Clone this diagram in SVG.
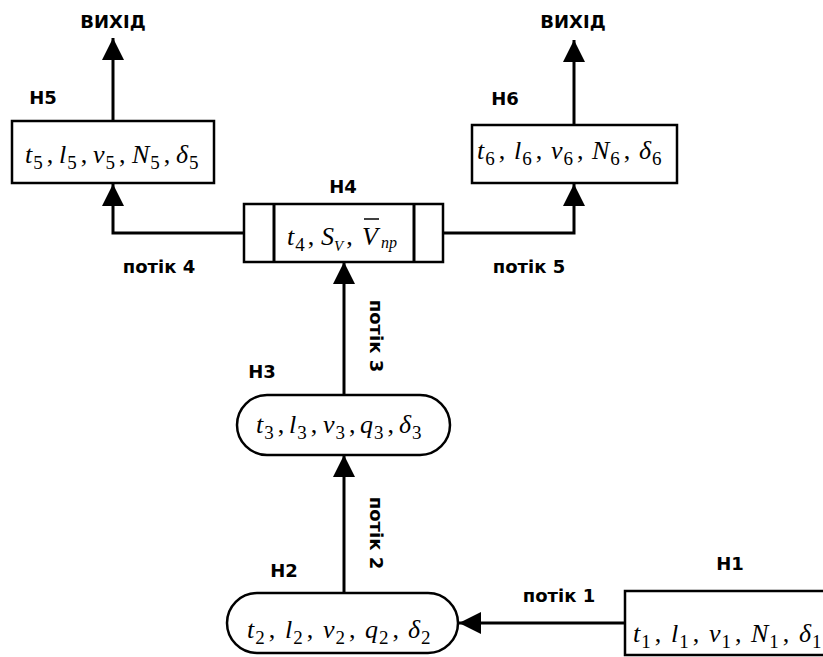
<svg xmlns="http://www.w3.org/2000/svg" width="823" height="657" viewBox="0 0 823 657">
<defs>
<style>
.box{fill:#fff;stroke:#000;stroke-width:2.5}
.ln{fill:none;stroke:#000;stroke-width:3}
.lbl{font-family:"DejaVu Sans","Open Sans",sans-serif;font-weight:700;font-size:18px;fill:#000}
.m{font-family:"Liberation Serif","Times New Roman",serif;font-style:italic;font-size:26px;fill:#000}
.s{font-style:normal;font-size:19px}
.c{font-style:normal}
</style>
<marker id="ah" viewBox="0 0 22 22" refX="22" refY="11" markerWidth="22" markerHeight="22" markerUnits="userSpaceOnUse" orient="auto">
<path d="M0,0 L22,11 L0,22 Z" fill="#000"/>
</marker>
</defs>
<rect width="823" height="657" fill="#fff"/>
<g id="connectors">
<line class="ln" x1="113" y1="121" x2="113" y2="38" marker-end="url(#ah)"/>
<line class="ln" x1="574" y1="125" x2="574" y2="40" marker-end="url(#ah)"/>
<polyline class="ln" points="244,233 113,233 113,184" marker-end="url(#ah)"/>
<polyline class="ln" points="443,233 574,233 574,184" marker-end="url(#ah)"/>
<line class="ln" x1="344" y1="395" x2="344" y2="262" marker-end="url(#ah)"/>
<line class="ln" x1="344" y1="593" x2="344" y2="455" marker-end="url(#ah)"/>
<line class="ln" x1="625" y1="623" x2="459" y2="623" marker-end="url(#ah)"/>
<text class="lbl" x="159" y="273" text-anchor="middle">потік 4</text>
<text class="lbl" x="529" y="273" text-anchor="middle">потік 5</text>
<text class="lbl" x="559" y="602" text-anchor="middle">потік 1</text>
<text class="lbl" transform="translate(370,336) rotate(90)" text-anchor="middle">потік 3</text>
<text class="lbl" transform="translate(370,533) rotate(90)" text-anchor="middle">потік 2</text>
<text class="lbl" x="113" y="28" text-anchor="middle">ВИХІД</text>
<text class="lbl" x="573" y="28" text-anchor="middle">ВИХІД</text>
</g>
<g id="H5">
<rect class="box" x="12" y="121" width="202" height="62"/>
<text class="lbl" x="43" y="104" text-anchor="middle">Н5</text>
<text class="m" y="163"><tspan x="25">t</tspan><tspan class="s" dx="1" dy="6">5</tspan><tspan class="c" dx="4" dy="-6">,</tspan><tspan x="59">l</tspan><tspan class="s" dx="1" dy="6">5</tspan><tspan class="c" dx="4" dy="-6">,</tspan><tspan x="93">v</tspan><tspan class="s" dx="1" dy="6">5</tspan><tspan class="c" dx="4" dy="-6">,</tspan><tspan x="132">N</tspan><tspan class="s" dx="1" dy="6">5</tspan><tspan class="c" dx="4" dy="-6">,</tspan><tspan x="176">δ</tspan><tspan class="s" dx="1" dy="6">5</tspan></text>
</g>
<g id="H6">
<rect class="box" x="472" y="125" width="205" height="58"/>
<text class="lbl" x="505" y="105" text-anchor="middle">Н6</text>
<text class="m" y="159"><tspan x="477">t</tspan><tspan class="s" dx="1" dy="6">6</tspan><tspan class="c" dx="4" dy="-6">,</tspan><tspan x="514">l</tspan><tspan class="s" dx="1" dy="6">6</tspan><tspan class="c" dx="4" dy="-6">,</tspan><tspan x="551">v</tspan><tspan class="s" dx="1" dy="6">6</tspan><tspan class="c" dx="4" dy="-6">,</tspan><tspan x="592">N</tspan><tspan class="s" dx="1" dy="6">6</tspan><tspan class="c" dx="4" dy="-6">,</tspan><tspan x="639">δ</tspan><tspan class="s" dx="1" dy="6">6</tspan></text>
</g>
<g id="H4">
<rect class="box" x="244" y="204" width="199" height="58"/>
<line class="ln" x1="274" y1="204" x2="274" y2="262" stroke-width="2.5"/>
<line class="ln" x1="414" y1="204" x2="414" y2="262" stroke-width="2.5"/>
<text class="lbl" x="343" y="193" text-anchor="middle">Н4</text>
<text class="m" y="245" font-size="24"><tspan x="287">t</tspan><tspan class="s" font-size="17" dx="1" dy="6">4</tspan><tspan class="c" dx="3" dy="-6">,</tspan><tspan x="321">S</tspan><tspan font-size="15" dx="0" dy="6">V</tspan><tspan class="c" dx="3" dy="-6">,</tspan><tspan x="362">V</tspan><tspan font-size="16" dx="3" dy="3">пр</tspan></text>
<line x1="364" y1="219" x2="379" y2="219" stroke="#000" stroke-width="1.5"/>
</g>
<g id="H3">
<rect class="box" x="237" y="395" width="213" height="60" rx="30"/>
<text class="lbl" x="262" y="378" text-anchor="middle">Н3</text>
<text class="m" y="433"><tspan x="256">t</tspan><tspan class="s" dx="1" dy="6">3</tspan><tspan class="c" dx="4" dy="-6">,</tspan><tspan x="289">l</tspan><tspan class="s" dx="1" dy="6">3</tspan><tspan class="c" dx="4" dy="-6">,</tspan><tspan x="323">v</tspan><tspan class="s" dx="1" dy="6">3</tspan><tspan class="c" dx="4" dy="-6">,</tspan><tspan x="360">q</tspan><tspan class="s" dx="1" dy="6">3</tspan><tspan class="c" dx="4" dy="-6">,</tspan><tspan x="399">δ</tspan><tspan class="s" dx="1" dy="6">3</tspan></text>
</g>
<g id="H2">
<rect class="box" x="227" y="593" width="231" height="60" rx="30"/>
<text class="lbl" x="284" y="577" text-anchor="middle">Н2</text>
<text class="m" y="638"><tspan x="247">t</tspan><tspan class="s" dx="1" dy="6">2</tspan><tspan class="c" dx="4" dy="-6">,</tspan><tspan x="285">l</tspan><tspan class="s" dx="1" dy="6">2</tspan><tspan class="c" dx="4" dy="-6">,</tspan><tspan x="323">v</tspan><tspan class="s" dx="1" dy="6">2</tspan><tspan class="c" dx="4" dy="-6">,</tspan><tspan x="365">q</tspan><tspan class="s" dx="1" dy="6">2</tspan><tspan class="c" dx="4" dy="-6">,</tspan><tspan x="408">δ</tspan><tspan class="s" dx="1" dy="6">2</tspan></text>
</g>
<g id="H1">
<rect class="box" x="625" y="591" width="210" height="64"/>
<text class="lbl" x="730" y="570" text-anchor="middle">Н1</text>
<text class="m" y="642"><tspan x="633">t</tspan><tspan class="s" dx="1" dy="6">1</tspan><tspan class="c" dx="4" dy="-6">,</tspan><tspan x="671">l</tspan><tspan class="s" dx="1" dy="6">1</tspan><tspan class="c" dx="4" dy="-6">,</tspan><tspan x="709">v</tspan><tspan class="s" dx="1" dy="6">1</tspan><tspan class="c" dx="4" dy="-6">,</tspan><tspan x="751">N</tspan><tspan class="s" dx="1" dy="6">1</tspan><tspan class="c" dx="4" dy="-6">,</tspan><tspan x="799">δ</tspan><tspan class="s" dx="1" dy="6">1</tspan></text>
</g>
</svg>
